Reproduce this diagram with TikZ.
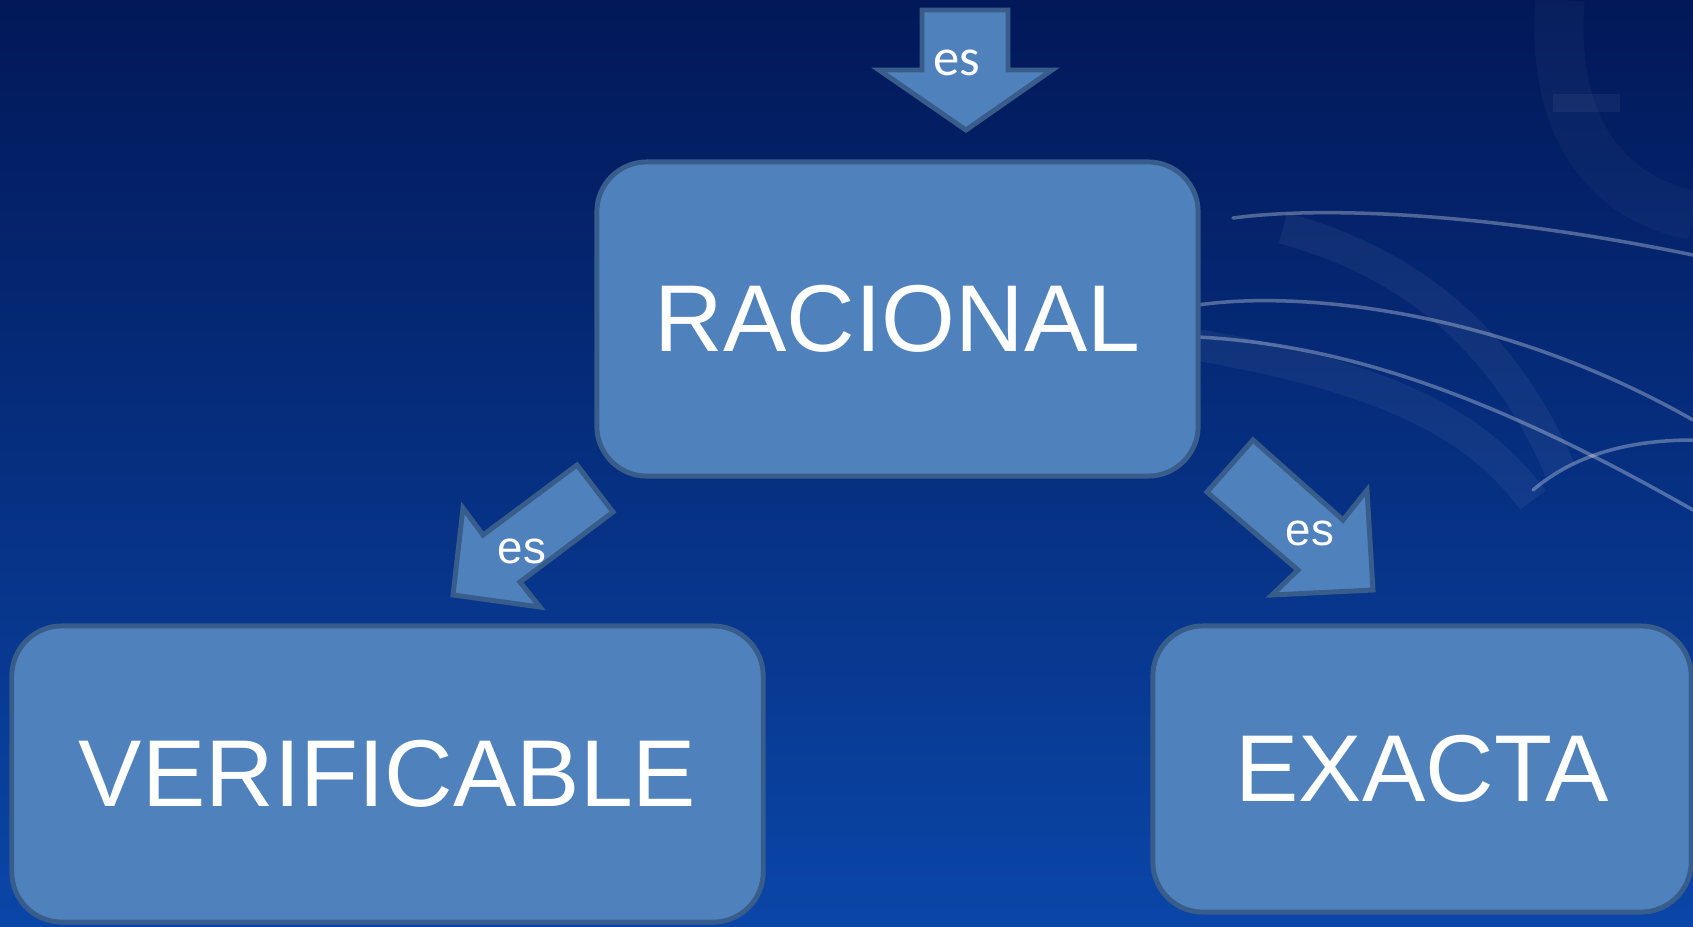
\documentclass[tikz,border=0pt]{standalone}
\usepackage{fontspec}
\setmainfont{Liberation Sans}
\newfontfamily\calibrifont{Carlito}
\usetikzlibrary{calc}

\definecolor{bgtop}{RGB}{2,24,88}
\definecolor{bgmid}{RGB}{7,52,142}
\definecolor{bgbot}{RGB}{10,70,168}
\definecolor{boxfill}{RGB}{79,129,189}
\definecolor{boxline}{RGB}{56,93,138}

\tikzset{
  concept/.style={draw=boxline, fill=boxfill, line width=1.4pt, rounded corners=0.5cm,
    text=white, font=\fontsize{27}{30}\selectfont, inner sep=0pt},
  esarrow/.style={draw=boxline, fill=boxfill, line width=1.4pt, line join=miter},
  eslabel/.style={text=white, font=\fontsize{13}{15}\selectfont, inner sep=0pt},
  swoosh/.style={white, opacity=0.3, line width=1pt, line cap=round},
  band/.style={white, opacity=0.05, line width=9pt},
}

\begin{document}
\begin{tikzpicture}[x=0.01cm, y=-0.01cm]
			%%%%% BACKGROUND %%%%%
			\useasboundingbox (0,0) rectangle (1693,926);
			\shade[top color=bgtop, middle color=bgmid, bottom color=bgbot] (0,0) rectangle (1693,926);
			
			\draw[band, line width=14pt, opacity=0.03] (1560,0) .. controls (1550,130) and (1610,200) .. (1693,215);
			\draw[band, opacity=0.05, line width=5pt] (1553,103) -- (1620,103);
			\draw[band] (1283,228) .. controls (1400,260) and (1500,330) .. (1560,470);
			\draw[band] (1198,345) .. controls (1400,380) and (1480,430) .. (1533,500);
			\draw[swoosh] (1233,218) .. controls (1330,205) and (1500,215) .. (1693,255);
			\draw[swoosh] (1198,305) .. controls (1300,290) and (1500,310) .. (1693,420);
			\draw[swoosh] (1198,337) .. controls (1350,345) and (1500,400) .. (1693,510);
			\draw[swoosh] (1533,490) .. controls (1580,450) and (1640,440) .. (1693,440);
			
			%%%%% BOXES %%%%%
			\node[concept, minimum width=6.01cm, minimum height=3.14cm] (racional) at (897.5,319) {RACIONAL};
			\node[concept, minimum width=7.51cm, minimum height=2.96cm] (verificable) at (387.5,774) {VERIFICABLE};
			\node[concept, minimum width=5.38cm, minimum height=2.86cm] (exacta) at (1422,769) {EXACTA};
			
			%%%%% ARROWS %%%%%
			\draw[esarrow] (922,10) -- (1008,10) -- (1008,70) -- (1052,70) -- (966,130) -- (879,70) -- (922,70) -- cycle;
			\node[eslabel, font=\calibrifont\fontsize{15}{17}\selectfont] (estop) at (957,63) {es};
			
			\draw[esarrow] (577,465) -- (613,512) -- (520,582) -- (540,607) -- (453,595) -- (463,508) -- (483,535) -- cycle;
			\node[eslabel] (esleft) at (522,551) {es};
			
			\draw[esarrow] (1253,440) -- (1343,520) -- (1367,490) -- (1373,590) -- (1272,595) -- (1298,570) -- (1207,492) -- cycle;
			\node[eslabel] (esright) at (1310,533) {es};
			
			%%%%% END %%%%%
\end{tikzpicture}
\end{document}
